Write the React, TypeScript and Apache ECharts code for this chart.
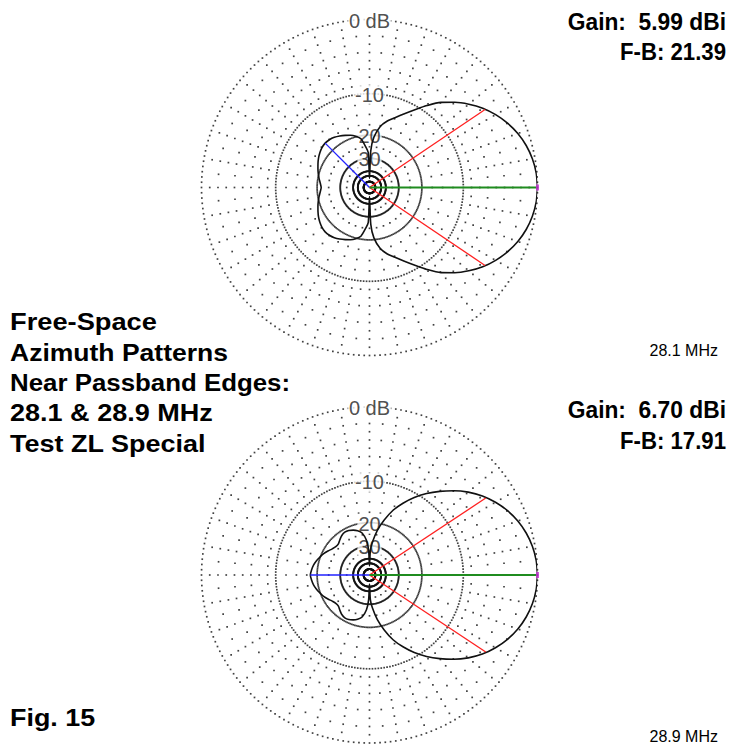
import React, { useEffect, useRef } from "react";
import * as echarts from "echarts";

// ---------- data ----------
// azimuth angles (deg) of the half pattern; the other half is its mirror image
const patternAngles = [0, 5, 10, 15, 20, 25, 30, 35, 40, 45, 50, 55, 60, 65, 70, 75, 80, 85, 88, 90, 92, 95, 100, 105, 110, 115, 120, 125, 130, 135, 140, 145, 150, 155, 160, 165, 170, 175, 180];
// relative field (dB) at 28.1 MHz
const topDb = [0, -0.07, -0.27, -0.6, -1.07, -1.69, -2.45, -3.35, -4.45, -5.7, -7.1, -8.9, -10.8, -12.5, -14.0, -15.3, -17.1, -20.6, -26.0, -50, -27.0, -24.5, -21.0, -19.8, -19.0, -18.4, -17.8, -17.3, -17.0, -16.9, -17.1, -17.5, -18.0, -18.6, -19.2, -19.8, -20.4, -21.0, -21.39];
// relative field (dB) at 28.9 MHz
const bottomDb = [0, -0.07, -0.27, -0.6, -1.07, -1.69, -2.47, -3.4, -4.55, -5.9, -7.4, -9.0, -10.8, -12.9, -15.3, -18.6, -22.5, -28.0, -33.0, -50, -33.0, -27.0, -23.5, -22.3, -21.6, -21.1, -21.0, -21.4, -22.2, -23.0, -23.0, -22.4, -21.5, -20.6, -19.9, -19.2, -18.6, -18.2, -17.91];

const ringDb = [0, -10, -20, -30, -40];
const innerRingFractions = [0.4, 0.2]; // extra small rings inside the -30 dB ring
const ringLabelDb = [0, -10, -20, -30];
const ringLabelText = ["0 dB", "-10", "20", "30"];

const halfPowerAngles = [34, 33.5]; // red lines (-3 dB points)
const backAngles = [135, 180]; // blue line directions
const backDb = [-16.9, -17.91];
const gains = ["Gain:  5.99 dBi", "Gain:  6.70 dBi"];
const fbs = ["F-B: 21.39", "F-B: 17.91"];
const freqs = ["28.1 MHz", "28.9 MHz"];
const titleLines = ["Free-Space", "Azimuth Patterns", "Near Passband Edges:", "28.1 & 28.9 MHz", "Test ZL Special"];
const figLabel = "Fig. 15";

// ARRL log-periodic scale: radius shrinks by 0.89 for every 2 dB
const arrl = (db: number) => Math.pow(0.89, -db / 2);

function fullPattern(db: number[]) {
  const pts: number[][] = patternAngles.map((a, i) => [arrl(db[i]), a]);
  for (let i = patternAngles.length - 2; i >= 0; i--) {
    pts.push([arrl(db[i]), 360 - patternAngles[i]]);
  }
  return pts;
}

function gridDots() {
  const pts: number[][] = [];
  const r10 = arrl(-10), r20 = arrl(-20), r30 = arrl(-30), r40 = arrl(-40);
  const radii = ringDb.map(arrl).concat(innerRingFractions.map((f) => f * r30));
  radii.forEach((r) => {
    for (let k = 0; k < 200; k++) pts.push([r, k * 1.8]);
  });
  for (let a = 0; a < 360; a += 5) {
    const major = a % 10 === 0;
    for (let k = 1; k <= 8; k++) {
      if (major || k % 2 === 1) pts.push([r10 + (k * (1 - r10)) / 9, a]);
    }
    if (major) {
      for (let k = 1; k <= 3; k++) pts.push([r20 + (k * (r10 - r20)) / 4, a]);
      pts.push([(r20 + r30) / 2, a]);
    }
    if (a % 15 === 0) pts.push([(r30 + r40) / 2, a]);
  }
  return pts;
}

const FONT = "'Liberation Sans', Arial, sans-serif";

function buildOption() {
  const centers = [
    [369.5, 187.5],
    [369.5, 575],
  ];
  const R = 168;
  const series: any[] = [];
  [0, 1].forEach((p) => {
    const db = p === 0 ? topDb : bottomDb;
    series.push({
      type: "scatter",
      coordinateSystem: "polar",
      polarIndex: p,
      silent: true,
      z: 1,
      symbol: "rect",
      symbolSize: 1.7,
      itemStyle: { color: "#111" },
      data: gridDots(),
    });
    series.push({
      type: "scatter",
      coordinateSystem: "polar",
      polarIndex: p,
      silent: true,
      z: 2,
      symbolSize: 0,
      data: ringLabelDb.map((d, i) => ({ name: ringLabelText[i], value: [arrl(d), 90] })),
      label: {
        show: true,
        position: "inside",
        formatter: "{b}",
        fontFamily: FONT,
        fontSize: 20,
        color: "#222",
        backgroundColor: "#fff",
        padding: [0, 1],
        offset: [0, 1],
      },
    });
    series.push({
      type: "line",
      coordinateSystem: "polar",
      polarIndex: p,
      silent: true,
      z: 3,
      showSymbol: false,
      smooth: 0.25,
      lineStyle: { color: "#111", width: 1.6 },
      data: fullPattern(db),
    });
    const hp = halfPowerAngles[p];
    [hp, 360 - hp].forEach((a) => {
      series.push({
        type: "line",
        coordinateSystem: "polar",
        polarIndex: p,
        silent: true,
        z: 4,
        showSymbol: false,
        lineStyle: { color: "#ff2020", width: 1.3 },
        data: [
          [0, a],
          [arrl(-3.2), a],
        ],
      });
    });
    series.push({
      type: "line",
      coordinateSystem: "polar",
      polarIndex: p,
      silent: true,
      z: 4,
      showSymbol: false,
      lineStyle: { color: "#2222ff", width: 1.4 },
      data: [
        [0, backAngles[p]],
        [arrl(backDb[p]), backAngles[p]],
      ],
    });
    series.push({
      type: "line",
      coordinateSystem: "polar",
      polarIndex: p,
      silent: true,
      z: 4,
      showSymbol: false,
      lineStyle: { color: "#1f8c1f", width: 2 },
      data: [
        [0, 0],
        [arrl(0), 0],
      ],
    });
    series.push({
      type: "scatter",
      coordinateSystem: "polar",
      polarIndex: p,
      silent: true,
      z: 5,
      symbol: "rect",
      symbolSize: [3, 6],
      itemStyle: { color: "#c030d0" },
      data: [[arrl(0), 0]],
    });
  });

  const boldText = (text: string, x: number, y: number, align: string, scaleX: number) => ({
    type: "text",
    x,
    y,
    scaleX,
    z: 10,
    style: {
      text,
      fill: "#000",
      font: `bold 24px ${FONT}`,
      align,
      verticalAlign: "middle",
    },
  });
  const plainText = (text: string, x: number, y: number) => ({
    type: "text",
    x,
    y,
    z: 10,
    style: {
      text,
      fill: "#000",
      font: `16px ${FONT}`,
      align: "right",
      verticalAlign: "middle",
    },
  });

  const titleScale = [1.136, 1.105, 1.077, 1.127, 1.125];
  const graphic: any[] = [
    boldText(gains[0], 726, 22, "right", 0.95),
    boldText(fbs[0], 726, 52, "right", 0.924),
    boldText(gains[1], 726, 410, "right", 0.95),
    boldText(fbs[1], 726, 441, "right", 0.924),
    plainText(freqs[0], 718, 350),
    plainText(freqs[1], 718, 736),
    boldText(figLabel, 10, 718, "left", 1.12),
    ...titleLines.map((t, i) => boldText(t, 10, 322 + i * 30.3, "left", titleScale[i])),
  ];

  return {
    animation: false,
    backgroundColor: "#fff",
    polar: centers.map((c) => ({ center: c, radius: R })),
    angleAxis: [0, 1].map((i) => ({
      polarIndex: i,
      type: "value",
      min: 0,
      max: 360,
      startAngle: 0,
      clockwise: false,
      show: false,
    })),
    radiusAxis: [0, 1].map((i) => ({
      polarIndex: i,
      type: "value",
      min: 0,
      max: 1,
      show: false,
    })),
    series,
    graphic,
  };
}

export default function App() {
  const ref = useRef<HTMLDivElement>(null);
  useEffect(() => {
    if (!ref.current) return;
    const chart = echarts.init(ref.current, null, { renderer: "svg" });
    chart.setOption(buildOption() as any);
    return () => chart.dispose();
  }, []);
  return (
    <div
      ref={ref}
      style={{ position: "fixed", left: 0, top: 0, width: 729, height: 744, background: "#fff" }}
    />
  );
}
